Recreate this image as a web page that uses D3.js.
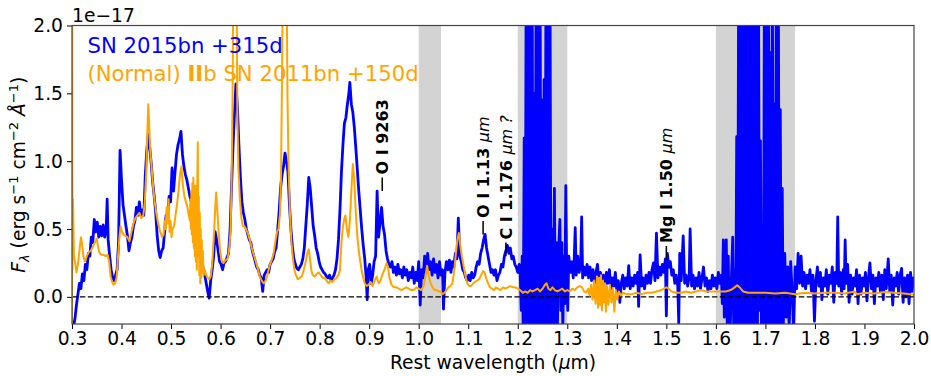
<!DOCTYPE html>
<html>
<head>
<meta charset="utf-8">
<script src="https://d3js.org/d3.v7.min.js"></script>
<style>
  body { margin: 0; background: #fff; }
  text { font-family: "DejaVu Sans", sans-serif; }
</style>
</head>
<body>
<div id="chart"></div>
<script>
// SN 2015bn +315d, optical + NIR (wavelength um, flux 1e-17)
var blueOptical = [[0.300,-0.30],[0.303,-0.22],[0.306,-0.16],[0.309,-0.06],[0.312,0.02],[0.315,0.10],[0.318,0.06],[0.321,0.17],[0.324,0.12],[0.327,0.24],[0.330,0.20],[0.333,0.32],[0.336,0.30],[0.339,0.44],[0.342,0.40],[0.345,0.57],[0.348,0.48],[0.351,0.55],[0.354,0.44],[0.357,0.52],[0.360,0.45],[0.363,0.53],[0.366,0.44],[0.369,0.50],[0.371,0.72],[0.373,0.42],[0.376,0.30],[0.379,0.20],[0.382,0.14],[0.385,0.12],[0.388,0.16],[0.391,0.20],[0.394,0.40],[0.397,1.08],[0.400,0.86],[0.403,0.68],[0.406,0.60],[0.409,0.52],[0.412,0.45],[0.415,0.34],[0.418,0.40],[0.421,0.44],[0.424,0.52],[0.427,0.56],[0.430,0.66],[0.433,0.60],[0.436,0.70],[0.439,0.60],[0.442,0.64],[0.445,0.60],[0.448,0.90],[0.451,1.08],[0.454,1.20],[0.457,1.10],[0.460,0.98],[0.463,0.84],[0.466,0.74],[0.469,0.62],[0.472,0.45],[0.475,0.34],[0.478,0.29],[0.481,0.34],[0.484,0.36],[0.487,0.48],[0.490,0.60],[0.493,0.56],[0.496,0.74],[0.499,0.70],[0.502,0.95],[0.505,0.78],[0.508,0.92],[0.511,1.05],[0.514,1.12],[0.517,1.16],[0.520,1.22],[0.523,1.05],[0.526,0.96],[0.529,0.90],[0.532,0.86],[0.535,0.80],[0.538,0.74],[0.541,0.70],[0.544,0.66],[0.547,0.58],[0.550,0.54],[0.553,0.44],[0.556,0.40],[0.559,0.30],[0.562,0.28],[0.565,0.20],[0.568,0.16],[0.571,0.10],[0.574,0.04],[0.577,-0.01],[0.580,0.12],[0.583,0.20],[0.586,0.30],[0.589,0.48],[0.592,0.42],[0.595,0.34],[0.598,0.26],[0.601,0.24],[0.604,0.20],[0.607,0.25],[0.610,0.26],[0.613,0.29],[0.616,0.32],[0.619,0.48],[0.622,0.80],[0.625,1.10],[0.628,1.35],[0.631,1.57],[0.634,1.40],[0.637,1.12],[0.640,0.88],[0.643,0.70],[0.646,0.62],[0.649,0.57],[0.652,0.50],[0.655,0.46],[0.658,0.42],[0.661,0.40],[0.664,0.34],[0.667,0.30],[0.670,0.26],[0.673,0.22],[0.676,0.20],[0.679,0.16],[0.682,0.14],[0.685,0.04],[0.688,0.16],[0.691,0.18],[0.694,0.20],[0.697,0.18],[0.700,0.24],[0.703,0.26],[0.706,0.28],[0.709,0.33],[0.712,0.36],[0.715,0.48],[0.718,0.62],[0.721,0.80],[0.724,0.90],[0.727,0.96],[0.730,1.06],[0.733,1.00],[0.736,0.92],[0.739,0.68],[0.742,0.50],[0.745,0.37],[0.748,0.28],[0.751,0.24],[0.754,0.21],[0.757,0.20],[0.760,0.22],[0.763,0.24],[0.766,0.28],[0.769,0.36],[0.772,0.52],[0.775,0.68],[0.778,0.88],[0.781,0.80],[0.784,0.66],[0.787,0.52],[0.790,0.45],[0.793,0.36],[0.796,0.32],[0.799,0.26],[0.802,0.22],[0.805,0.20],[0.808,0.18],[0.811,0.17],[0.814,0.15],[0.817,0.14],[0.820,0.16],[0.823,0.12],[0.826,0.14],[0.829,0.16],[0.832,0.20],[0.835,0.28],[0.838,0.42],[0.841,0.64],[0.844,0.92],[0.847,1.12],[0.850,1.28],[0.853,1.32],[0.856,1.42],[0.859,1.50],[0.861,1.58],[0.864,1.42],[0.867,1.36],[0.870,1.25],[0.873,1.10],[0.876,0.94],[0.879,0.78],[0.882,0.64],[0.885,0.50],[0.888,0.38],[0.891,0.28],[0.894,0.14],[0.896,-0.02],[0.898,0.20],[0.901,0.24],[0.904,0.10],[0.907,0.16],[0.910,0.26],[0.913,0.30],[0.916,0.78],[0.919,0.44],[0.922,0.55],[0.925,0.66],[0.928,0.52],[0.931,0.46],[0.934,0.34],[0.937,0.28],[0.940,0.24],[0.943,0.22],[0.946,0.26],[0.949,0.18],[0.952,0.22],[0.955,0.16],[0.958,0.24],[0.961,0.17],[0.964,0.20],[0.967,0.14],[0.970,0.22],[0.973,0.16],[0.976,0.20],[0.979,0.12],[0.982,0.18],[0.985,0.14],[0.988,0.22],[0.991,0.10],[0.994,0.18],[0.997,0.12],[1.000,0.26],[1.003,-0.06],[1.006,0.20],[1.009,0.14],[1.012,0.30],[1.015,0.18],[1.018,0.32],[1.021,0.20],[1.024,0.26],[1.027,0.16],[1.030,0.28],[1.033,0.18],[1.036,0.24],[1.039,0.14],[1.042,0.26],[1.045,0.16],[1.048,0.20],[1.050,-0.09],[1.053,0.18],[1.056,0.26],[1.059,0.20],[1.062,0.27],[1.065,0.18],[1.068,0.26],[1.071,0.22],[1.074,0.32],[1.077,0.28],[1.080,0.58],[1.083,0.30],[1.086,0.26],[1.089,0.20],[1.092,0.18],[1.095,0.14],[1.098,0.12],[1.101,0.16],[1.104,0.12],[1.107,0.18],[1.110,0.14],[1.113,0.16],[1.116,0.22],[1.119,0.26],[1.122,0.24],[1.125,0.32],[1.128,0.36],[1.131,0.42],[1.134,0.46],[1.137,0.36],[1.140,0.30],[1.143,0.24],[1.146,0.18],[1.149,0.20],[1.152,0.16],[1.155,0.20],[1.158,0.12],[1.161,0.16],[1.164,0.18],[1.167,0.24],[1.170,0.22],[1.173,0.30],[1.176,0.34],[1.179,0.38],[1.182,0.32],[1.185,0.36],[1.188,0.28],[1.191,0.30],[1.194,0.24],[1.197,0.22],[1.200,0.18],[1.203,0.24],[1.205,0.16]];
var blueJ = [[1.207,-0.10],[1.209,0.30],[1.211,-0.25],[1.213,1.17],[1.215,-0.25],[1.217,2.5],[1.219,-0.25],[1.221,2.5],[1.223,-0.25],[1.225,2.5],[1.227,-0.25],[1.229,2.5],[1.231,-0.25],[1.233,1.50],[1.235,-0.25],[1.237,2.5],[1.239,-0.25],[1.241,2.5],[1.243,-0.25],[1.245,2.5],[1.247,-0.25],[1.249,1.45],[1.251,-0.25],[1.253,1.60],[1.255,-0.25],[1.257,2.5],[1.259,-0.25],[1.261,2.5],[1.263,-0.25],[1.265,2.5],[1.267,-0.25],[1.269,0.50],[1.271,-0.20],[1.274,0.80],[1.276,-0.20],[1.278,0.40],[1.280,-0.25],[1.282,0.30],[1.285,0.57],[1.287,-0.10],[1.289,0.40],[1.291,-0.25],[1.293,0.30],[1.295,-0.05],[1.297,0.82],[1.299,0.10],[1.301,-0.10],[1.303,0.30],[1.306,0.18],[1.309,0.26],[1.312,0.14],[1.314,0.28],[1.316,0.51],[1.318,0.16],[1.321,0.30],[1.324,0.18],[1.327,0.24],[1.329,0.59],[1.331,0.14],[1.334,0.22]];
var blueMid = [[1.337,0.16],[1.340,0.24],[1.343,0.14],[1.346,0.22],[1.349,0.12],[1.352,0.20],[1.355,0.10],[1.358,0.18],[1.361,0.24],[1.364,0.10],[1.367,0.18],[1.370,0.08],[1.373,0.16],[1.376,0.08],[1.379,0.18],[1.382,0.10],[1.385,0.20],[1.388,0.06],[1.391,0.14],[1.394,0.08],[1.397,0.18],[1.400,0.04],[1.403,0.12],[1.406,-0.04],[1.409,0.10],[1.412,0.16],[1.415,0.06],[1.418,0.14],[1.421,0.08],[1.424,0.23],[1.427,0.06],[1.430,0.14],[1.433,0.08],[1.436,0.16],[1.439,0.10],[1.442,0.18],[1.444,-0.07],[1.447,0.31],[1.450,0.08],[1.453,0.14],[1.456,0.06],[1.459,0.16],[1.462,0.10],[1.465,0.18],[1.468,0.10],[1.471,0.20],[1.474,0.25],[1.477,0.12],[1.480,0.47],[1.483,0.14],[1.486,0.22],[1.489,0.16],[1.492,0.24],[1.495,0.18],[1.498,0.28],[1.500,-0.14],[1.502,0.32],[1.505,0.22],[1.508,0.26],[1.511,0.16],[1.514,0.20],[1.517,0.10],[1.520,0.16],[1.523,0.08],[1.525,-0.19],[1.527,0.32],[1.530,0.12],[1.534,0.45],[1.537,0.10],[1.540,0.16],[1.543,0.08],[1.546,0.14],[1.548,0.50],[1.551,0.08],[1.554,0.16],[1.557,0.06],[1.560,0.14],[1.563,0.08],[1.566,0.18],[1.569,0.06],[1.572,0.14],[1.575,0.22],[1.578,0.08],[1.581,0.14],[1.584,0.04],[1.587,0.12],[1.590,0.06],[1.593,0.16],[1.596,0.08],[1.599,0.14],[1.602,0.06],[1.605,0.18],[1.608,0.10],[1.611,0.16],[1.613,-0.05],[1.615,0.42],[1.617,-0.15],[1.619,0.20],[1.621,0.42],[1.623,-0.25],[1.625,0.30],[1.627,-0.20]];
var blueH = [[1.629,-0.25],[1.631,0.10],[1.634,0.44],[1.636,-0.25],[1.638,0.20],[1.640,-0.25],[1.642,1.18],[1.644,-0.25],[1.646,2.5],[1.648,-0.25],[1.650,2.5],[1.652,-0.25],[1.654,2.5],[1.656,-0.25],[1.658,2.5],[1.660,-0.25],[1.662,2.5],[1.664,-0.25],[1.666,2.5],[1.668,-0.25],[1.670,2.5],[1.672,-0.25],[1.674,2.5],[1.676,-0.25],[1.678,2.5],[1.680,-0.25],[1.682,2.5],[1.684,-0.25],[1.686,2.5],[1.688,-0.10],[1.690,1.15],[1.692,-0.25],[1.694,0.40],[1.696,-0.25],[1.698,2.5],[1.700,-0.25],[1.702,2.5],[1.704,-0.25],[1.706,2.5],[1.708,-0.25],[1.710,1.80],[1.712,-0.25],[1.714,2.5],[1.716,-0.25],[1.718,1.42],[1.720,-0.25],[1.722,2.5],[1.724,-0.25],[1.726,2.5],[1.728,-0.25],[1.730,1.38],[1.732,-0.20],[1.734,0.80],[1.736,-0.25],[1.739,0.32]];
var blueK = [[1.742,-0.15],[1.745,0.22],[1.748,-0.25],[1.751,0.26],[1.754,0.04],[1.757,-0.25],[1.760,0.22],[1.763,0.06],[1.766,0.32],[1.769,0.10],[1.772,0.30],[1.775,0.08],[1.778,0.18],[1.781,0.06],[1.784,0.16],[1.787,0.10],[1.790,0.20],[1.793,0.04],[1.796,0.16],[1.799,-0.18],[1.802,0.12],[1.805,0.22],[1.808,0.08],[1.811,0.18],[1.814,-0.02],[1.817,0.14],[1.820,0.08],[1.823,0.20],[1.826,0.02],[1.829,0.16],[1.832,0.10],[1.835,0.22],[1.838,-0.04],[1.841,0.18],[1.844,0.10],[1.846,0.59],[1.848,0.08],[1.851,0.18],[1.854,0.02],[1.857,0.20],[1.859,0.06],[1.861,0.42],[1.863,0.10],[1.866,0.24],[1.869,-0.04],[1.872,0.16],[1.875,0.02],[1.878,0.14],[1.881,0.08],[1.884,0.20],[1.887,-0.05],[1.890,0.16],[1.893,0.02],[1.896,0.14],[1.899,0.08],[1.902,0.18],[1.905,-0.03],[1.908,0.14],[1.911,0.25],[1.914,0.06],[1.917,0.16],[1.920,-0.05],[1.923,0.14],[1.926,0.08],[1.929,0.18],[1.932,0.04],[1.935,0.16],[1.938,-0.02],[1.941,0.20],[1.944,0.06],[1.948,0.28],[1.951,0.04],[1.954,0.16],[1.957,-0.06],[1.960,0.14],[1.963,0.08],[1.966,0.18],[1.969,0.02],[1.972,0.16],[1.975,0.21],[1.978,-0.04],[1.981,0.14],[1.984,0.00],[1.987,0.16],[1.990,-0.05],[1.993,0.18],[1.996,0.04],[1.999,0.14],[2.000,0.10]];

// SN 2011bn +150d
var orangeOptical = [[0.300,-0.25],[0.3005,2.5],[0.301,0.20],[0.302,0.72],[0.304,0.30],[0.306,0.26],[0.309,0.18],[0.312,0.24],[0.315,0.34],[0.318,0.44],[0.320,0.40],[0.323,0.30],[0.326,0.26],[0.330,0.30],[0.334,0.33],[0.338,0.34],[0.342,0.37],[0.346,0.40],[0.350,0.43],[0.353,0.36],[0.356,0.32],[0.360,0.31],[0.364,0.31],[0.368,0.30],[0.372,0.31],[0.375,0.26],[0.378,0.15],[0.381,0.11],[0.384,0.09],[0.387,0.10],[0.390,0.14],[0.393,0.30],[0.396,0.45],[0.398,0.52],[0.401,0.48],[0.404,0.46],[0.408,0.45],[0.412,0.44],[0.416,0.41],[0.420,0.48],[0.424,0.54],[0.428,0.58],[0.432,0.60],[0.436,0.62],[0.440,0.58],[0.444,0.60],[0.447,0.70],[0.450,0.92],[0.452,1.20],[0.454,1.42],[0.456,1.25],[0.458,1.08],[0.461,0.94],[0.464,0.80],[0.467,0.70],[0.470,0.62],[0.474,0.54],[0.478,0.48],[0.482,0.44],[0.485,0.46],[0.487,0.56],[0.489,0.50],[0.491,0.66],[0.493,0.54],[0.495,0.72],[0.497,0.48],[0.499,0.56],[0.501,0.44],[0.503,0.50],[0.506,0.52],[0.509,0.60],[0.512,0.68],[0.515,0.78],[0.518,0.90],[0.521,0.96],[0.524,0.82],[0.527,0.74],[0.530,0.70],[0.533,0.66],[0.536,0.60],[0.538,0.56],[0.539,0.72],[0.540,0.50],[0.541,0.78],[0.542,0.46],[0.543,0.84],[0.544,0.40],[0.545,0.88],[0.546,0.36],[0.547,0.76],[0.548,0.30],[0.549,0.82],[0.550,0.26],[0.551,0.70],[0.552,0.20],[0.553,0.86],[0.554,1.14],[0.555,0.30],[0.556,0.74],[0.557,0.16],[0.558,0.62],[0.559,0.10],[0.560,0.50],[0.561,0.14],[0.562,0.42],[0.563,0.18],[0.564,0.34],[0.566,0.16],[0.568,0.20],[0.571,0.16],[0.574,0.14],[0.577,0.13],[0.580,0.15],[0.583,0.24],[0.586,0.42],[0.589,0.64],[0.591,0.77],[0.593,0.66],[0.596,0.48],[0.599,0.34],[0.602,0.27],[0.606,0.25],[0.610,0.27],[0.614,0.28],[0.617,0.34],[0.620,0.48],[0.622,0.80],[0.624,1.40],[0.626,2.5],[0.632,2.5],[0.634,1.30],[0.636,0.95],[0.639,0.72],[0.642,0.58],[0.645,0.52],[0.648,0.52],[0.651,0.50],[0.655,0.47],[0.659,0.42],[0.663,0.36],[0.667,0.31],[0.671,0.26],[0.675,0.21],[0.679,0.15],[0.683,0.12],[0.687,0.10],[0.691,0.12],[0.695,0.17],[0.699,0.23],[0.703,0.27],[0.707,0.32],[0.711,0.42],[0.714,0.48],[0.717,0.50],[0.720,0.62],[0.722,0.90],[0.724,1.60],[0.726,2.5],[0.733,2.5],[0.735,1.50],[0.737,1.00],[0.740,0.62],[0.743,0.40],[0.746,0.28],[0.749,0.20],[0.752,0.16],[0.756,0.13],[0.760,0.14],[0.764,0.15],[0.768,0.20],[0.772,0.26],[0.775,0.32],[0.778,0.35],[0.780,0.30],[0.783,0.20],[0.786,0.16],[0.790,0.15],[0.794,0.17],[0.798,0.18],[0.802,0.16],[0.806,0.14],[0.810,0.14],[0.814,0.12],[0.818,0.10],[0.822,0.12],[0.826,0.11],[0.830,0.13],[0.834,0.14],[0.838,0.16],[0.841,0.20],[0.844,0.40],[0.847,0.52],[0.850,0.58],[0.852,0.60],[0.855,0.50],[0.858,0.44],[0.861,0.56],[0.864,0.78],[0.867,0.98],[0.870,0.86],[0.873,0.62],[0.876,0.45],[0.879,0.34],[0.882,0.26],[0.885,0.19],[0.888,0.14],[0.891,0.10],[0.895,0.08],[0.899,0.09],[0.903,0.11],[0.907,0.08],[0.911,0.12],[0.915,0.15],[0.919,0.10],[0.923,0.12],[0.927,0.17],[0.931,0.20],[0.935,0.25],[0.938,0.22],[0.941,0.14],[0.945,0.09],[0.950,0.07],[0.955,0.07],[0.960,0.06],[0.965,0.05],[0.970,0.06],[0.975,0.07],[0.980,0.06],[0.985,0.05],[0.990,0.05],[0.995,0.07],[1.000,0.06],[1.005,0.05],[1.010,0.08],[1.014,0.16],[1.017,0.23],[1.020,0.16],[1.024,0.10],[1.028,0.07],[1.032,0.05],[1.036,0.05],[1.040,0.04],[1.044,0.04],[1.048,0.02],[1.052,0.03],[1.056,0.05],[1.060,0.07],[1.064,0.08],[1.068,0.10],[1.072,0.20],[1.075,0.32],[1.078,0.42],[1.081,0.47],[1.084,0.38],[1.087,0.30],[1.090,0.24],[1.094,0.16],[1.098,0.10],[1.102,0.08],[1.106,0.08],[1.110,0.10],[1.114,0.11],[1.118,0.12],[1.122,0.13],[1.126,0.16],[1.130,0.19],[1.133,0.18],[1.136,0.14],[1.140,0.10],[1.144,0.07],[1.148,0.06],[1.152,0.05],[1.156,0.07],[1.160,0.06],[1.165,0.05],[1.170,0.07],[1.175,0.06],[1.180,0.07],[1.185,0.08],[1.190,0.07],[1.195,0.07],[1.200,0.06]];
var orangeNIR = [[1.205,0.05],[1.210,0.03],[1.215,0.04],[1.220,0.03],[1.225,0.05],[1.230,0.04],[1.235,0.05],[1.240,0.06],[1.245,0.04],[1.250,0.06],[1.255,0.09],[1.258,0.10],[1.262,0.06],[1.266,0.05],[1.270,0.07],[1.275,0.05],[1.280,0.04],[1.285,0.05],[1.290,0.06],[1.295,0.04],[1.300,0.05],[1.305,0.04],[1.310,0.06],[1.315,0.05],[1.320,0.07],[1.325,0.08],[1.330,0.07],[1.334,0.04],[1.338,0.03],[1.342,0.06],[1.345,0.01],[1.348,0.09],[1.351,-0.02],[1.354,0.12],[1.357,-0.05],[1.360,0.15],[1.362,-0.08],[1.364,0.14],[1.366,-0.06],[1.368,0.16],[1.370,-0.10],[1.372,0.12],[1.374,-0.04],[1.376,0.10],[1.378,-0.11],[1.380,0.08],[1.383,-0.06],[1.386,0.09],[1.389,-0.04],[1.392,0.06],[1.395,-0.11],[1.398,0.05],[1.401,-0.02],[1.404,0.04],[1.408,0.01],[1.412,0.03],[1.420,0.02],[1.430,0.02],[1.440,0.03],[1.450,0.02],[1.460,0.03],[1.470,0.03],[1.480,0.04],[1.490,0.05],[1.495,0.06],[1.500,0.07],[1.505,0.06],[1.510,0.04],[1.520,0.03],[1.530,0.03],[1.540,0.04],[1.550,0.03],[1.560,0.04],[1.570,0.05],[1.580,0.04],[1.590,0.04],[1.600,0.04],[1.610,0.04],[1.620,0.04],[1.630,0.05],[1.638,0.07],[1.643,0.085],[1.648,0.07],[1.655,0.04],[1.665,0.03],[1.680,0.03],[1.700,0.03],[1.720,0.025],[1.740,0.03],[1.760,0.02],[1.780,0.03],[1.800,0.025],[1.820,0.03],[1.840,0.03],[1.860,0.025],[1.880,0.04],[1.885,0.02],[1.900,0.03],[1.920,0.025],[1.940,0.035],[1.960,0.03],[1.980,0.025],[2.000,0.015]];

// telluric windows (um)
var tellurics = [[1.0, 1.045], [1.2, 1.3], [1.6, 1.76]];

var xTicks = [0.3, 0.4, 0.5, 0.6, 0.7, 0.8, 0.9, 1.0, 1.1, 1.2, 1.3, 1.4, 1.5, 1.6, 1.7, 1.8, 1.9, 2.0];
var yTicks = [0.0, 0.5, 1.0, 1.5, 2.0];

var lineIds = [
    {wave: 0.9263, level: 0.78, label: "O I 9263", unit: ""},
    {wave: 1.13, level: 0.46, label: "O I 1.13 ", unit: "μm"},
    {wave: 1.176, level: 0.30, label: "C I 1.176 ", unit: "μm ?"},
    {wave: 1.50, level: 0.275, label: "Mg I 1.50 ", unit: "μm"}
];

var margin = {top: 25.5, right: 17, bottom: 52, left: 72};
var width = 931 - margin.left - margin.right;
var height = 376 - margin.top - margin.bottom;

var blue = "#0000ff", orange = "#ffa500";

var svg = d3.select("#chart").append("svg")
    .attr("width", 931)
    .attr("height", 376);

var g = svg.append("g")
    .attr("transform", "translate(" + margin.left + "," + margin.top + ")");

var x = d3.scaleLinear().domain([0.3, 2.0]).range([0, width]);
var y = d3.scaleLinear().domain([-0.2, 2.0]).range([height, 0]);

svg.append("defs").append("clipPath")
    .attr("id", "plot-clip")
    .append("rect")
    .attr("width", width)
    .attr("height", height);

var plot = g.append("g").attr("clip-path", "url(#plot-clip)");

plot.selectAll("rect.band")
    .data(tellurics)
    .enter()
    .append("rect")
    .attr("class", "band")
    .attr("x", function (d) { return x(d[0]); })
    .attr("width", function (d) { return x(d[1]) - x(d[0]); })
    .attr("y", 0)
    .attr("height", height)
    .attr("fill", "#d3d3d3");

var line = d3.line()
    .x(function (d) { return x(d[0]); })
    .y(function (d) { return y(d[1]); });

var blueSpec = [].concat(blueOptical, blueJ, blueMid, blueH, blueK);
var orangeSpec = [].concat(orangeOptical, orangeNIR);

plot.append("path")
    .datum(blueSpec)
    .attr("d", line)
    .attr("fill", "none")
    .attr("stroke", blue)
    .attr("stroke-width", 2.8)
    .attr("stroke-linejoin", "round");

// zero level
plot.append("line")
    .attr("x1", 0)
    .attr("x2", width)
    .attr("y1", y(0))
    .attr("y2", y(0))
    .attr("stroke", "#000")
    .attr("stroke-width", 1.3)
    .attr("stroke-dasharray", "5.5,2.4");

plot.append("path")
    .datum(orangeSpec)
    .attr("d", line)
    .attr("fill", "none")
    .attr("stroke", orange)
    .attr("stroke-width", 2)
    .attr("stroke-linejoin", "round");

// line identifications
var ids = g.selectAll("g.lineid")
    .data(lineIds)
    .enter()
    .append("g")
    .attr("class", "lineid");

ids.append("line")
    .attr("x1", function (d) { return x(d.wave); })
    .attr("x2", function (d) { return x(d.wave); })
    .attr("y1", function (d) { return y(d.level); })
    .attr("y2", function (d) { return y(d.level + 0.1); })
    .attr("stroke", "#000")
    .attr("stroke-width", 1.5);

var idText = ids.append("text")
    .attr("transform", function (d) {
        return "translate(" + x(d.wave) + "," + (y(d.level + 0.1) - 3) + ") rotate(-90)";
    })
    .attr("dy", "0.36em")
    .attr("font-size", "16px")
    .attr("fill", "#000");

idText.append("tspan")
    .attr("font-weight", "bold")
    .text(function (d) { return d.label; });

idText.append("tspan")
    .attr("font-style", "italic")
    .text(function (d) { return d.unit; });

// axes
var xAxis = g.append("g")
    .attr("transform", "translate(0," + height + ")")
    .call(d3.axisBottom(x).tickValues(xTicks).tickFormat(d3.format(".1f")).tickSize(5).tickPadding(3).tickSizeOuter(0));

var yAxis = g.append("g")
    .call(d3.axisLeft(y).tickValues(yTicks).tickFormat(d3.format(".1f")).tickSize(5).tickPadding(4).tickSizeOuter(0));

[xAxis, yAxis].forEach(function (a) {
    a.select(".domain").remove();
    a.selectAll(".tick line").attr("stroke", "#000").attr("stroke-width", 1);
    a.selectAll(".tick text")
        .attr("font-family", "DejaVu Sans, sans-serif")
        .attr("font-size", "18.7px")
        .attr("fill", "#000");
});

g.append("rect")
    .attr("width", width)
    .attr("height", height)
    .attr("fill", "none")
    .attr("stroke", "#444")
    .attr("stroke-width", 1.2);

// offset text
svg.append("text")
    .attr("x", margin.left)
    .attr("y", 21.5)
    .attr("font-size", "18.7px")
    .text("1e\u221217");

svg.append("text")
    .attr("x", margin.left + width / 2)
    .attr("y", 369)
    .attr("text-anchor", "middle")
    .attr("font-size", "18.7px")
    .call(function (t) {
        t.append("tspan").text("Rest wavelength (");
        t.append("tspan").attr("font-style", "italic").text("μ");
        t.append("tspan").text("m)");
    });

var yl = svg.append("text")
    .attr("transform", "translate(25," + (margin.top + height / 2) + ") rotate(-90)")
    .attr("text-anchor", "middle")
    .attr("font-size", "18.7px");
yl.append("tspan").attr("font-style", "italic").text("F");
yl.append("tspan").attr("font-style", "italic").attr("font-size", "13px").attr("dy", 4).text("λ");
yl.append("tspan").attr("dy", -4).text(" (erg s");
yl.append("tspan").attr("font-size", "13px").attr("dy", -7).text("\u22121");
yl.append("tspan").attr("dy", 7).text(" cm");
yl.append("tspan").attr("font-size", "13px").attr("dy", -7).text("\u22122");
yl.append("tspan").attr("dy", 7).text(" ");
yl.append("tspan").attr("font-style", "italic").text("Å");
yl.append("tspan").attr("font-size", "13px").attr("dy", -7).text("\u22121");
yl.append("tspan").attr("dy", 7).text(")");

// legend (text only)
var legend = g.append("g").attr("font-size", "21.2px");
legend.append("text")
    .attr("x", 15.5)
    .attr("y", 27.5)
    .attr("fill", blue)
    .text("SN 2015bn +315d");
var l2 = legend.append("text")
    .attr("x", 15.5)
    .attr("y", 55.5)
    .attr("fill", orange);
l2.append("tspan").text("(Normal) ");
l2.append("tspan").attr("font-weight", "bold").text("II");
l2.append("tspan").text("b SN 2011bn +150d");
</script>
</body>
</html>
